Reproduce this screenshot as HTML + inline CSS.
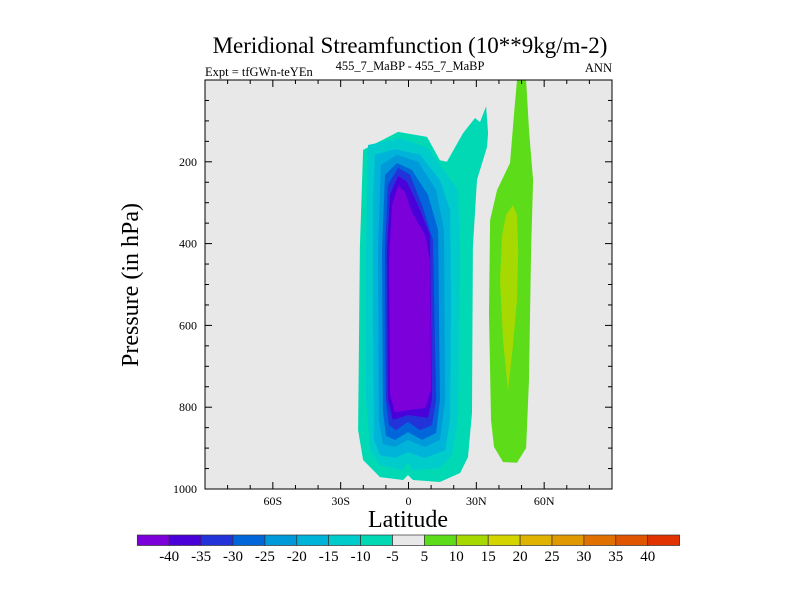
<!DOCTYPE html>
<html><head><meta charset="utf-8"><style>
body{margin:0;background:#fff}
svg text{font-family:"Liberation Serif",serif}
</style></head><body>
<svg id="c" width="800" height="600" xmlns="http://www.w3.org/2000/svg">
<rect x="205" y="80" width="407" height="409" fill="#e8e8e8"/>
<g id="fills"></g>
<rect x="205" y="80" width="407" height="409" fill="none" stroke="#000" stroke-width="1"/>
<g id="axes"></g>
<text x="410" y="53" text-anchor="middle" font-size="23">Meridional Streamfunction (10**9kg/m-2)</text>
<text x="205" y="76" font-size="12.5">Expt = tfGWn-teYEn</text>
<text x="410" y="70" text-anchor="middle" font-size="12.5">455_7_MaBP - 455_7_MaBP</text>
<text x="612" y="72" text-anchor="end" font-size="12.5">ANN</text>
<text transform="translate(138,285) rotate(-90)" text-anchor="middle" font-size="24">Pressure (in hPa)</text>
<text x="408" y="527" text-anchor="middle" font-size="24">Latitude</text>
<g id="cbar"></g>
</svg>
<script>
const levels=[-40,-35,-30,-25,-20,-15,-10,-5,5,10,15,20,25,30,35,40];
const colors=["#7b00d9","#4a00d9","#2233d9","#0066d9","#0099d9","#00b3d9","#00cccc","#00d9b3","#e8e8e8","#5ddc1a","#a6d900","#d4d400","#e0b300","#e09900","#e07000","#e05500","#e03300"];
const yTicks=[200,400,600,800,1000];
const xTicks=[-60,-30,0,30,60];
const xTickLabels=["60S","30S","0","30N","60N"];
// contour regions in [lat, pressure]
const contourNeg5=[[-20.1,171],[-4.6,127],[8.2,139],[13.9,196],[17,200],[24.1,130],[29.4,93],[31.6,103],[34.3,64],[35.2,130],[34.7,164],[30.3,244],[28.5,408],[28.1,814],[26.3,922],[22.8,961],[13.9,983],[2,978],[-0.2,966],[-2.4,978],[-12.6,971],[-20.1,929],[-22.3,856],[-21.5,408]];
const contourNeg10=[[-17.9,159],[-3.8,142],[8.6,166],[14.8,215],[21.9,269],[22.8,416],[21.9,831],[19.2,917],[13.9,949],[2,954],[-0.2,934],[-2.4,954],[-12.6,941],[-17,905],[-18.8,782],[-18.8,416]];
const contourNeg15=[[-14.8,183],[-6,169],[5.1,183],[13.9,245],[18.4,318],[18.8,538],[18.4,831],[16.2,905],[7.3,924],[-0.2,910],[-6,924],[-12.6,917],[-15.3,880],[-15.7,538],[-15.7,293]];
const contourNeg20=[[-12.2,208],[-5.1,183],[4.2,200],[12.2,269],[15.7,367],[16.2,782],[13.9,880],[7.3,897],[-0.2,880],[-6,897],[-11.3,890],[-13.1,831],[-13.5,416]];
const contourNeg25=[[-10.4,232],[-5.1,203],[1.5,220],[8.6,281],[13.1,367],[13.9,782],[12.2,863],[6,880],[-0.2,861],[-6,880],[-10,870],[-11.3,807],[-11.7,416]];
const contourNeg30=[[-9.1,257],[-4.6,215],[0.7,232],[6,306],[10.8,391],[12.2,782],[10.4,844],[5.1,856],[-0.2,836],[-5.5,856],[-8.6,844],[-10,782],[-10.4,416]];
const contourNeg35=[[-8.2,281],[-4.6,235],[-0.7,249],[4.2,306],[9.5,379],[10.4,782],[8.6,826],[-0.2,819],[-6.9,831],[-9.1,782],[-9.5,416]];
const contourNeg40=[[-7.3,306],[-4.6,259],[-1.5,274],[1.5,323],[7.3,379],[9.5,440],[10,758],[7.3,802],[-0.2,807],[-6,812],[-8.2,770],[-8.6,440]];
const contourPos5=[[48,0],[46.7,81],[44.9,203],[39.2,269],[36.1,342],[35.6,570],[36.5,831],[37.8,897],[41.8,934],[48,936],[52,900],[53.3,733],[54.2,416],[55.1,245],[53.3,122],[52,0]];
const contourPos10=[[46.2,306],[43.1,330],[41.4,379],[40.5,489],[41.8,636],[44,758],[46.2,648],[48,538],[48.5,416],[48,330]];

const NS="http://www.w3.org/2000/svg";
const X=lat=>408.5+lat*(407/180);
const Y=p=>80+p*(409/1000);
function mk(tag,attrs,parent){const e=document.createElementNS(NS,tag);for(const k in attrs)e.setAttribute(k,attrs[k]);parent.appendChild(e);return e;}
const fills=document.getElementById('fills');
const regions=[[contourNeg5,7,'contour-neg5'],[contourNeg10,6,'contour-neg10'],[contourNeg15,5,'contour-neg15'],[contourNeg20,4,'contour-neg20'],[contourNeg25,3,'contour-neg25'],[contourNeg30,2,'contour-neg30'],[contourNeg35,1,'contour-neg35'],[contourNeg40,0,'contour-neg40'],[contourPos5,9,'contour-pos5'],[contourPos10,10,'contour-pos10']];
regions.forEach(([pts,ci,name])=>{
  const el=mk('polygon',{points:pts.map(q=>X(q[0]).toFixed(1)+','+Y(q[1]).toFixed(1)).join(' '),fill:colors[ci]},fills);
  
  
});
const axes=document.getElementById('axes');
for(let p=50;p<1000;p+=50){
  const len=(p%200===0)?7:4;
  mk('line',{x1:205,x2:205+len,y1:Y(p),y2:Y(p),stroke:'#000'},axes);
  mk('line',{x1:612,x2:612-len,y1:Y(p),y2:Y(p),stroke:'#000'},axes);
}
yTicks.forEach(p=>{
  const t=mk('text',{x:197,y:Y(p)+4,'text-anchor':'end','font-size':12},axes);t.textContent=p;
  
  
});
for(let l=-80;l<=80;l+=10){
  const len=(l%30===0)?7:4;
  mk('line',{x1:X(l),x2:X(l),y1:489,y2:489-len,stroke:'#000'},axes);
  mk('line',{x1:X(l),x2:X(l),y1:80,y2:80+len,stroke:'#000'},axes);
}
xTicks.forEach((l,i)=>{
  const t=mk('text',{x:X(l),y:505,'text-anchor':'middle','font-size':12},axes);t.textContent=xTickLabels[i];
  
  
});
const cb=document.getElementById('cbar');
const bx=137.3,bw=31.9;
colors.forEach((c,i)=>{
  const r=mk('rect',{x:bx+i*bw,y:535,width:bw,height:10.5,fill:c,stroke:'#333','stroke-width':0.7},cb);
  
  
});
levels.forEach((v,i)=>{
  const t=mk('text',{x:bx+(i+1)*bw,y:561,'text-anchor':'middle','font-size':15},cb);t.textContent=v;
  
  
});
</script>
</body></html>
